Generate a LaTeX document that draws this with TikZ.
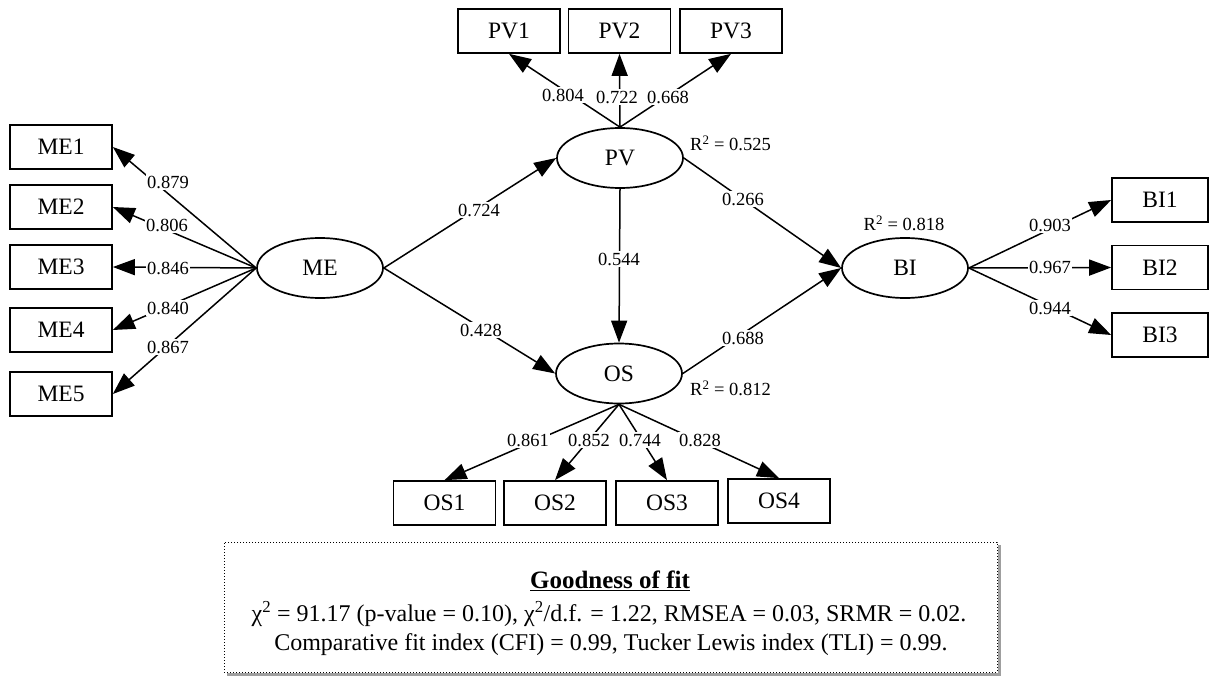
\documentclass[tikz,border=0pt]{standalone}
\usepackage{fontspec}
\setmainfont{Liberation Serif}
\usetikzlibrary{arrows.meta,shapes.geometric}
\tikzset{
  ind/.style={draw, line width=1.7pt, minimum width=102pt, minimum height=44pt, inner sep=0pt, font=\fontsize{23.5}{26}\selectfont},
  lat/.style={draw, ellipse, line width=1.7pt, minimum width=126pt, minimum height=60pt, inner sep=0pt, font=\fontsize{23.5}{26}\selectfont},
  arr/.style={line width=1.5pt, -{Triangle[length=22pt,width=16pt]}},
  coef/.style={fill=white, inner sep=1.5pt, font=\fontsize{18.5}{20}\selectfont},
  rsq/.style={inner sep=0pt, font=\fontsize{18.5}{20}\selectfont},
  gtext/.style={inner sep=0pt, font=\fontsize{24}{27}\selectfont},
}
\begin{document}
\begin{tikzpicture}[x=1pt,y=-1pt]
\useasboundingbox (0,0) rectangle (1214,679);
% latent variables
\node[lat] (ME) at (320,268) {ME};
\node[lat] (PV) at (620,158) {PV};
\node[lat] (OS) at (619,373.5) {OS};
\node[lat] (BI) at (905,268) {BI};
% indicators
\node[ind] (ME1) at (61,147) {ME1};
\node[ind] (ME2) at (61,207) {ME2};
\node[ind] (ME3) at (61,267) {ME3};
\node[ind] (ME4) at (61,330) {ME4};
\node[ind] (ME5) at (61,394) {ME5};
\node[ind] (PV1) at (509,31) {PV1};
\node[ind] (PV2) at (619.5,31) {PV2};
\node[ind] (PV3) at (731,31) {PV3};
\node[ind] (OS1) at (444.5,503) {OS1};
\node[ind] (OS2) at (555,503) {OS2};
\node[ind] (OS3) at (667,503) {OS3};
\node[ind] (OS4) at (779,501) {OS4};
\node[ind, minimum width=96pt] (BI1) at (1160,200) {BI1};
\node[ind, minimum width=96pt] (BI2) at (1160,267.5) {BI2};
\node[ind, minimum width=96pt] (BI3) at (1160,335) {BI3};
% connectors
\foreach \i in {1,...,5} \draw[arr] (ME.west) -- (ME\i.east);
\foreach \i in {1,2,3} \draw[arr] (PV.north) -- (PV\i.south);
\foreach \i in {1,...,4} \draw[arr] (OS.south) -- (OS\i.north);
\foreach \i in {1,2,3} \draw[arr] (BI.east) -- (BI\i.west);
\draw[arr] (ME.east) -- (PV.west);
\draw[arr] (ME.east) -- (OS.west);
\draw[arr] (PV.south) -- (OS.north);
\draw[arr] (PV.east) -- (BI.west);
\draw[arr] (OS.east) -- (BI.west);
% coefficient labels
\node[coef] (l1) at (168,182) {0.879};
\node[coef] (l2) at (167,225) {0.806};
\node[coef] (l3) at (168,268) {0.846};
\node[coef] (l4) at (168,308) {0.840};
\node[coef] (l5) at (168,347) {0.867};
\node[coef] (l6) at (563,95) {0.804};
\node[coef] (l7) at (617,97) {0.722};
\node[coef] (l8) at (668,97) {0.668};
\node[coef] (l9) at (479,210) {0.724};
\node[coef] (l10) at (481,330) {0.428};
\node[coef] (l11) at (619,259) {0.544};
\node[coef] (l12) at (743,199) {0.266};
\node[coef] (l13) at (743,338) {0.688};
\node[coef] (l14) at (528,440) {0.861};
\node[coef] (l15) at (589,440) {0.852};
\node[coef] (l16) at (640,440) {0.744};
\node[coef] (l17) at (700,440) {0.828};
\node[coef] (l18) at (1050,225) {0.903};
\node[coef] (l19) at (1050,267) {0.967};
\node[coef] (l20) at (1050,308) {0.944};
% R squared
\node[rsq, anchor=west] (r1) at (690,143) {R\textsuperscript{2} = 0.525};
\node[rsq, anchor=west] (r2) at (690,388) {R\textsuperscript{2} = 0.812};
\node[rsq] (r3) at (904,223) {R\textsuperscript{2} = 0.818};
% goodness of fit box
\draw[gray!75, line width=3pt] (999.5,545) -- (999.5,674.5) -- (227,674.5);
\node[draw, dotted, line width=1pt, fill=white, minimum width=773pt, minimum height=130pt, inner sep=0pt] (GF) at (610.5,607) {};
\node[gtext, font=\fontsize{25}{28}\selectfont] (GT) at (610,581) {\underline{\textbf{Goodness of fit}}};
\node[gtext] (G2) at (609,614) {χ\textsuperscript{2} = 91.17 (p-value = 0.10), χ\textsuperscript{2}/d.f. = 1.22, RMSEA = 0.03, SRMR = 0.02.};
\node[gtext] (G3) at (611,645) {Comparative fit index (CFI) = 0.99, Tucker Lewis index (TLI) = 0.99.};
\end{tikzpicture}
\end{document}
